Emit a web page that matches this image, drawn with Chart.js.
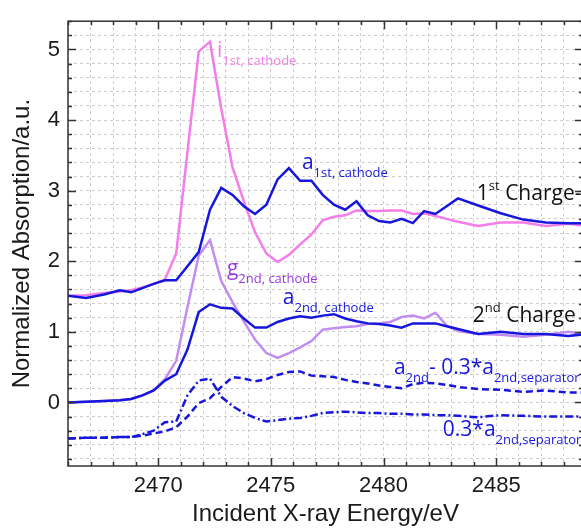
<!DOCTYPE html>
<html>
<head>
    <title>S K-edge XANES, 1st and 2nd charge</title>
    <meta charset="UTF-8">
    <style>
        html, body {
            margin: 0;
            padding: 0;
            overflow: hidden;
            background: #fff;
        }
        #wrap {
            width: 585px;
            height: 529px;
        }
    </style>
</head>
<body>
    <div id="wrap"><canvas id="xasChart" width="585" height="529"></canvas></div>

    <script src="https://cdn.jsdelivr.net/npm/chart.js"></script>

    <script>
        // Incident energy grid (eV), shared by every spectrum
        const energy = [
            2466.0, 2466.8, 2467.6, 2468.3, 2468.8, 2469.3, 2469.8, 2470.3, 2470.8, 2471.3,
            2471.8, 2472.3, 2472.8, 2473.3, 2473.8, 2474.3, 2474.8, 2475.3, 2475.8, 2476.3,
            2476.8, 2477.3, 2477.8, 2478.3, 2478.8, 2479.3, 2479.8, 2480.3, 2480.8, 2481.3,
            2481.8, 2482.3, 2482.8, 2483.3, 2484.2, 2485.2, 2486.2, 2487.2, 2488.2, 2489.0
        ];

        // i 1st, cathode (pink)
        const i1stCathode = [
            1.51, 1.52, 1.55, 1.57, 1.59, 1.63, 1.68, 1.74, 2.11, 3.55,
            4.97, 5.11, 4.16, 3.33, 2.85, 2.41, 2.11, 1.99, 2.09, 2.24,
            2.38, 2.58, 2.63, 2.65, 2.72, 2.71, 2.71, 2.72, 2.72, 2.67,
            2.68, 2.64, 2.60, 2.56, 2.50, 2.55, 2.55, 2.50, 2.53, 2.50
        ];

        // a 1st, cathode (blue)
        const a1stCathode = [
            1.51, 1.48, 1.53, 1.59, 1.56, 1.62, 1.68, 1.73, 1.73, 1.93,
            2.13, 2.73, 3.04, 2.94, 2.78, 2.67, 2.80, 3.16, 3.32, 3.14,
            3.14, 2.94, 2.80, 2.73, 2.85, 2.65, 2.57, 2.55, 2.60, 2.54,
            2.71, 2.67, 2.78, 2.89, 2.79, 2.68, 2.59, 2.55, 2.54, 2.54
        ];

        // g 2nd, cathode (light purple)
        const g2ndCathode = [
            0.00, 0.01, 0.02, 0.03, 0.05, 0.10, 0.17, 0.33, 0.59, 1.35,
            2.08, 2.30, 1.72, 1.42, 1.15, 0.89, 0.70, 0.63, 0.70, 0.78,
            0.87, 1.03, 1.05, 1.07, 1.08, 1.11, 1.12, 1.14, 1.21, 1.23,
            1.19, 1.27, 1.09, 1.01, 0.97, 0.96, 0.93, 0.96, 1.00, 0.96
        ];

        // a 2nd, cathode (blue)
        const a2ndCathode = [
            0.00, 0.01, 0.02, 0.03, 0.05, 0.10, 0.17, 0.31, 0.40, 0.75,
            1.28, 1.39, 1.34, 1.33, 1.19, 1.06, 1.06, 1.14, 1.19, 1.22,
            1.20, 1.23, 1.25, 1.19, 1.15, 1.12, 1.11, 1.09, 1.06, 1.12,
            1.12, 1.12, 1.08, 1.04, 0.97, 1.00, 0.97, 0.97, 0.94, 0.97
        ];

        // a 2nd - 0.3*a 2nd,separator (blue dashed)
        const a2ndCorrected = [
            -0.51, -0.50, -0.50, -0.49, -0.49, -0.47, -0.44, -0.41, -0.35, -0.20,
            -0.01, 0.06, 0.22, 0.36, 0.34, 0.30, 0.33, 0.39, 0.43, 0.44,
            0.38, 0.37, 0.36, 0.32, 0.29, 0.27, 0.24, 0.22, 0.20, 0.26,
            0.28, 0.27, 0.25, 0.22, 0.19, 0.18, 0.15, 0.17, 0.14, 0.14
        ];

        // 0.3*a 2nd,separator (blue dash-dot)
        const a2ndSeparator = [
            -0.51, -0.50, -0.50, -0.49, -0.49, -0.45, -0.40, -0.28, -0.27, 0.10,
            0.31, 0.34, 0.08, -0.05, -0.15, -0.22, -0.27, -0.25, -0.23, -0.22,
            -0.19, -0.15, -0.14, -0.13, -0.14, -0.15, -0.15, -0.16, -0.16, -0.17,
            -0.17, -0.18, -0.18, -0.19, -0.21, -0.18, -0.19, -0.20, -0.20, -0.20
        ];

        const xRange = [2466, 2488.85];
        const yRange = [-0.9, 5.4];

        const PINK = '#f47ee9';
        const BLUE = '#1616dc';
        const LILAC = '#c18ef0';
        const PURPLE = '#9a3de0';

        // curve labels, anchored in data units: [text, 'base' | 'sub' | 'sup']
        const curveLabels = [
            { x: 2472.61, y: 4.89, color: PINK, parts: [['i', 'base'], ['1st, cathode', 'sub']] },
            { x: 2476.38, y: 3.30, color: BLUE, parts: [['a', 'base'], ['1st, cathode', 'sub']] },
            { x: 2473.05, y: 1.81, color: PURPLE, parts: [['g', 'base'], ['2nd, cathode', 'sub']] },
            { x: 2475.53, y: 1.39, color: BLUE, parts: [['a', 'base'], ['2nd, cathode', 'sub']] },
            { x: 2484.14, y: 2.87, color: '#111', parts: [['1', 'base'], ['st', 'sup'], [' Charge-', 'base']] },
            { x: 2483.96, y: 1.14, color: '#111', parts: [['2', 'base'], ['nd', 'sup'], [' Charge', 'base']] },
            { x: 2480.46, y: 0.40, color: BLUE, parts: [['a', 'base'], ['2nd', 'sub'], ['- 0.3*a', 'base'], ['2nd,separator', 'sub']] },
            { x: 2482.63, y: -0.47, color: BLUE, parts: [['0.3*a', 'base'], ['2nd,separator', 'sub']] }
        ];

        function toPoints(ys) {
            return energy.map((e, i) => ({ x: e, y: ys[i] }));
        }

        function drawRich(ctx, x, y, parts, color) {
            let cx = x;
            ctx.fillStyle = color;
            ctx.textAlign = 'left';
            ctx.textBaseline = 'alphabetic';
            for (const [t, kind] of parts) {
                const size = kind === 'base' ? 21 : 13;
                const dy = kind === 'sub' ? 8 : (kind === 'sup' ? -10 : 0);
                ctx.font = size + 'px "Open Sans", "Noto Sans", sans-serif';
                ctx.fillText(t, cx, y + dy);
                cx += ctx.measureText(t).width;
            }
        }

        // frame, inward tick marks and curve labels
        const framePlugin = {
            id: 'frame',
            afterDatasetsDraw(chart) {
                const ctx = chart.ctx;
                const a = chart.chartArea;
                const xs = chart.scales.x;
                const ys = chart.scales.y;
                ctx.save();
                for (const lab of curveLabels) {
                    drawRich(ctx, xs.getPixelForValue(lab.x), ys.getPixelForValue(lab.y), lab.parts, lab.color);
                }
                ctx.strokeStyle = '#333';
                ctx.lineWidth = 1.5;
                ctx.strokeRect(a.left, a.top, a.right - a.left, a.bottom - a.top);
                ctx.beginPath();
                for (let e = Math.ceil(xRange[0]); e <= xRange[1]; e++) {
                    const len = e % 5 === 0 ? 8 : 4;
                    const px = Math.round(xs.getPixelForValue(e)) + 0.5;
                    ctx.moveTo(px, a.bottom); ctx.lineTo(px, a.bottom - len);
                    ctx.moveTo(px, a.top); ctx.lineTo(px, a.top + len);
                }
                for (let k = -4; k <= 27; k++) {
                    const len = k % 5 === 0 ? 8 : 4;
                    const py = Math.round(ys.getPixelForValue(k / 5)) + 0.5;
                    ctx.moveTo(a.left, py); ctx.lineTo(a.left + len, py);
                    ctx.moveTo(a.right, py); ctx.lineTo(a.right - len, py);
                }
                ctx.stroke();
                ctx.restore();
            }
        };

        const ctx = document.getElementById('xasChart').getContext('2d');

        const lineStyle = { pointRadius: 0, borderWidth: 2.5, tension: 0, fill: false };

        new Chart(ctx, {
            type: 'line',
            data: {
                datasets: [
                    { ...lineStyle, label: 'i 1st, cathode', data: toPoints(i1stCathode), borderColor: PINK, order: 3 },
                    { ...lineStyle, label: 'g 2nd, cathode', data: toPoints(g2ndCathode), borderColor: LILAC, order: 3 },
                    { ...lineStyle, label: 'a 1st, cathode', data: toPoints(a1stCathode), borderColor: BLUE, order: 1 },
                    { ...lineStyle, label: 'a 2nd, cathode', data: toPoints(a2ndCathode), borderColor: BLUE, order: 1 },
                    { ...lineStyle, label: 'a 2nd - 0.3*a 2nd,separator', data: toPoints(a2ndCorrected), borderColor: BLUE, borderDash: [7, 4], order: 2 },
                    { ...lineStyle, label: '0.3*a 2nd,separator', data: toPoints(a2ndSeparator), borderColor: BLUE, borderDash: [8, 3, 2, 3], order: 2 }
                ]
            },
            options: {
                responsive: false,
                animation: false,
                layout: { padding: { top: 10, right: 2, left: 0, bottom: 0 } },
                plugins: {
                    legend: { display: false },
                    tooltip: { enabled: false }
                },
                scales: {
                    x: {
                        type: 'linear',
                        min: xRange[0],
                        max: xRange[1],
                        afterFit: s => { s.height = 63; },
                        afterBuildTicks: s => {
                            const t = [];
                            for (let e = Math.ceil(xRange[0]); e <= xRange[1]; e++) t.push({ value: e });
                            s.ticks = t;
                        },
                        grid: { color: '#cccccc', lineWidth: 1, drawTicks: false },
                        border: { display: false, dash: [3, 3] },
                        ticks: {
                            autoSkip: false,
                            maxRotation: 0,
                            padding: 7,
                            color: '#1a1a1a',
                            font: { family: '"Liberation Sans", Arial, sans-serif', size: 22 },
                            callback: v => (v % 5 === 0 ? String(v) : '')
                        },
                        title: {
                            display: true,
                            text: 'Incident X-ray Energy/eV',
                            color: '#1a1a1a',
                            font: { family: '"Liberation Sans", Arial, sans-serif', size: 24 },
                            padding: { top: 0, bottom: 0 }
                        }
                    },
                    y: {
                        min: yRange[0],
                        max: yRange[1],
                        afterFit: s => { s.width = 68; },
                        afterBuildTicks: s => {
                            const t = [];
                            for (let k = -4; k <= 27; k++) t.push({ value: k / 5 });
                            s.ticks = t;
                        },
                        grid: { color: '#cccccc', lineWidth: 1, drawTicks: false },
                        border: { display: false, dash: [3, 3] },
                        ticks: {
                            autoSkip: false,
                            padding: 8,
                            color: '#1a1a1a',
                            font: { family: '"Liberation Sans", Arial, sans-serif', size: 22 },
                            callback: v => (Math.abs(v - Math.round(v)) < 1e-6 ? String(Math.round(v)) : '')
                        },
                        title: {
                            display: true,
                            text: 'Normalized Absorption/a.u.',
                            color: '#1a1a1a',
                            font: { family: '"Liberation Sans", Arial, sans-serif', size: 24 },
                            padding: { top: 8, bottom: 0 }
                        }
                    }
                }
            },
            plugins: [framePlugin]
        });
    </script>
</body>
</html>
